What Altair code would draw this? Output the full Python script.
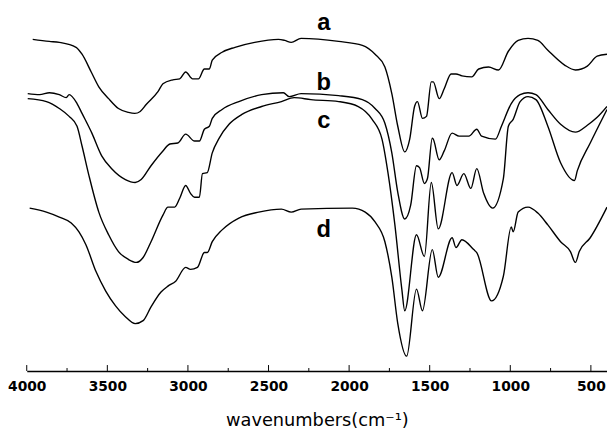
import altair as alt
import pandas as pd

# FTIR spectra (arbitrary transmittance units, curves offset vertically)
a_wn = [3963, 3860, 3798, 3694, 3657, 3600, 3553, 3492, 3431, 3369, 3330, 3296, 3259, 3186, 3155, 3094, 3051, 3014, 2971, 2935, 2898, 2867, 2849,
        2788, 2708, 2586, 2439, 2400, 2359, 2298, 2065, 1918, 1839, 1778, 1735, 1698, 1655, 1624, 1594, 1576, 1545, 1520, 1490, 1478,
        1441, 1410, 1367, 1337, 1300, 1239, 1196, 1135, 1073, 1012, 951, 890, 829, 767, 663, 596, 522, 461, 400]
a_t = [336, 334, 333, 328, 321, 303, 288, 276, 266, 262, 261, 263, 270, 283, 291, 295, 296, 303, 296, 296, 306, 306, 315,
       323, 328, 333, 336, 335, 333, 337, 334, 330, 321, 308, 281, 248, 222, 235, 268, 273, 256, 258, 293, 293,
       276, 286, 301, 301, 299, 298, 306, 308, 305, 324, 335, 337, 335, 325, 310, 305, 309, 319, 321]

b_wn = [3994, 3920, 3859, 3798, 3755, 3737, 3688, 3657, 3596, 3535, 3473, 3388, 3327, 3290, 3229, 3155, 3112, 3063, 3014, 2959,
        2929, 2898, 2867, 2849, 2788, 2684, 2543, 2408, 2371, 2298, 2065, 1918, 1839, 1778, 1735, 1698, 1655, 1618, 1582, 1563,
        1533, 1514, 1484, 1478, 1441, 1410, 1361, 1318, 1257, 1208, 1178, 1092, 1055, 994, 939, 890, 841, 767, 688, 596,
        522, 461, 400]
b_t = [281, 280, 282, 280, 277, 280, 271, 261, 241, 218, 205, 194, 191, 194, 208, 223, 230, 231, 240, 233,
       233, 245, 248, 256, 265, 273, 280, 282, 278, 281, 279, 275, 266, 251, 221, 181, 154, 168, 208, 206,
       190, 195, 236, 235, 214, 223, 241, 238, 238, 245, 238, 235, 248, 271, 280, 282, 280, 265, 250, 242,
       249, 257, 268]

c_wn = [3994, 3878, 3798, 3737, 3688, 3657, 3614, 3553, 3492, 3431, 3369, 3320, 3278, 3229, 3155, 3124, 3082, 3051, 3014, 2984,
        2959, 2929, 2910, 2880, 2849, 2806, 2745, 2665, 2543, 2420, 2341, 2237, 2065, 1943, 1857, 1796, 1759, 1716, 1673, 1655,
        1582, 1533, 1490, 1447, 1361, 1331, 1288, 1245, 1208, 1165, 1110, 1043, 1012, 982, 939, 890, 841, 767, 688, 602,
        584, 504, 400]
c_t = [276, 273, 266, 258, 248, 228, 198, 161, 138, 121, 113, 110, 115, 131, 158, 166, 166, 175, 188, 180,
       176, 176, 200, 201, 221, 236, 250, 260, 268, 273, 277, 275, 273, 268, 255, 235, 201, 148, 83, 61,
       138, 116, 191, 144, 201, 188, 200, 185, 205, 180, 165, 195, 248, 255, 273, 278, 275, 248, 211, 193,
       203, 231, 265]

d_wn = [3982, 3878, 3798, 3724, 3676, 3633, 3571, 3510, 3449, 3388, 3327, 3278, 3229, 3167, 3124, 3076, 3014, 2984, 2941, 2898,
        2880, 2849, 2788, 2684, 2561, 2420, 2359, 2298, 1980, 1900, 1839, 1778, 1735, 1698, 1643, 1582, 1545, 1484, 1447, 1361,
        1337, 1300, 1227, 1208, 1116, 1043, 994, 982, 951, 890, 829, 767, 688, 627, 596, 572, 504, 400]
d_t = [165, 161, 156, 150, 141, 128, 101, 81, 66, 55, 48, 51, 65, 80, 86, 91, 105, 103, 105, 120,
       120, 131, 143, 155, 161, 164, 161, 164, 165, 161, 151, 131, 95, 48, 15, 83, 61, 123, 95, 135,
       125, 133, 123, 120, 71, 96, 146, 141, 161, 166, 160, 148, 131, 121, 110, 121, 135, 166]

series_names = ["a", "b", "c", "d"]
label_wn = [2157, 2157, 2157, 2157]
label_t = [346, 285, 246, 136]

major_ticks = [4000, 3500, 3000, 2500, 2000, 1500, 1000, 500]
minor_ticks = [3750, 3250, 2750, 2250, 1750, 1250, 750]

rows = []
for name, wn, t in zip(series_names, [a_wn, b_wn, c_wn, d_wn], [a_t, b_t, c_t, d_t]):
    for w, v in zip(wn, t):
        rows.append({"series": name, "wn": w, "t": v})
df = pd.DataFrame(rows)

labels_df = pd.DataFrame({"series": series_names, "wn": label_wn, "t": label_t})
ticks_df = pd.DataFrame({"wn": major_ticks + minor_ticks,
                         "base": [0] * (len(major_ticks) + len(minor_ticks)),
                         "len": [6] * len(major_ticks) + [3] * len(minor_ticks)})

xscale = alt.Scale(domain=[4000, 400], nice=False, zero=False)
yscale = alt.Scale(domain=[0, 365], nice=False, zero=False)

xaxis = alt.Axis(values=major_ticks, format="d", labelFont="DejaVu Sans", labelFontWeight="bold",
                 labelFontSize=14, labelColor="black", labelPadding=9, labelFlush=False, labelOverlap=False,
                 ticks=False, tickSize=0, domainColor="black", domainWidth=1.5, grid=False,
                 title="wavenumbers(cm⁻¹)", titleFont="DejaVu Sans", titleFontSize=18,
                 titleFontWeight="normal", titleColor="black", titleY=55, titleBaseline="alphabetic")

lines = alt.Chart(df).mark_line(color="black", strokeWidth=1.4, interpolate="monotone").encode(
    x=alt.X("wn:Q", scale=xscale, axis=xaxis),
    y=alt.Y("t:Q", scale=yscale, axis=None),
    detail="series:N",
)

texts = alt.Chart(labels_df).mark_text(font="Liberation Sans", fontWeight="bold", fontSize=24,
                                       color="black", align="center", baseline="alphabetic").encode(
    x=alt.X("wn:Q", scale=xscale),
    y=alt.Y("t:Q", scale=yscale),
    text="series:N",
)

ticks = alt.Chart(ticks_df).mark_rule(color="black", strokeWidth=1).encode(
    x=alt.X("wn:Q", scale=xscale),
    y=alt.Y("base:Q", scale=yscale),
    y2="len:Q",
)

chart = alt.layer(lines, ticks, texts).properties(
    width=588, height=365,
    padding={"left": 19, "top": 0, "right": 0, "bottom": 58},
    autosize=alt.AutoSizeParams(type="none"),
).configure_view(stroke=None)

chart.save("out.html", embed_options={"renderer": "svg", "actions": False})
